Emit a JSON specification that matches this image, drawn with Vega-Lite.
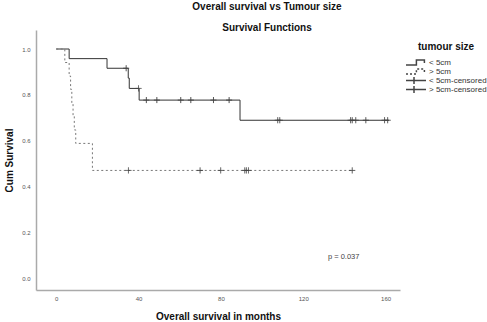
{
  "$schema": "https://vega.github.io/schema/vega-lite/v6.json",
  "autosize": "none",
  "width": 364,
  "height": 260,
  "padding": {"left": 36, "top": 30, "right": 87, "bottom": 32},
  "background": "white",
  "title": {
    "text": "Overall survival vs Tumour size",
    "subtitle": "Survival Functions",
    "font": "Liberation Sans",
    "fontSize": 10,
    "fontWeight": "bold",
    "subtitleFont": "Liberation Sans",
    "subtitleFontSize": 10,
    "subtitleFontWeight": "bold",
    "subtitleColor": "#111",
    "color": "#111",
    "anchor": "middle",
    "dx": 49,
    "offset": -3,
    "subtitlePadding": 11
  },
  "config": {
    "view": {"stroke": null},
    "font": "Liberation Sans",
    "axis": {
      "grid": false,
      "ticks": false,
      "domainColor": "#aaaaaa",
      "domainWidth": 1.5,
      "labelColor": "#555555",
      "labelFontSize": 6,
      "labelFont": "Liberation Sans",
      "titleFont": "Liberation Sans",
      "titleFontSize": 10,
      "titleFontWeight": "bold",
      "titleColor": "#111"
    }
  },
  "data": {
    "values": [
      {"series": "< 5cm", "kind": "line", "legend": "< 5cm", "month": 0, "surv": 1.0},
      {"series": "< 5cm", "kind": "line", "legend": "< 5cm", "month": 6.3, "surv": 0.958},
      {"series": "< 5cm", "kind": "line", "legend": "< 5cm", "month": 24.7, "surv": 0.916},
      {"series": "< 5cm", "kind": "line", "legend": "< 5cm", "month": 35, "surv": 0.873},
      {"series": "< 5cm", "kind": "line", "legend": "< 5cm", "month": 35.5, "surv": 0.828},
      {"series": "< 5cm", "kind": "line", "legend": "< 5cm", "month": 40.3, "surv": 0.777},
      {"series": "< 5cm", "kind": "line", "legend": "< 5cm", "month": 89.3, "surv": 0.689},
      {"series": "< 5cm", "kind": "line", "legend": "< 5cm", "month": 161.7, "surv": 0.689},
      {"series": "> 5cm", "kind": "line", "legend": "> 5cm", "month": 0, "surv": 1.0},
      {"series": "> 5cm", "kind": "line", "legend": "> 5cm", "month": 4.2, "surv": 0.941},
      {"series": "> 5cm", "kind": "line", "legend": "> 5cm", "month": 6.3, "surv": 0.882},
      {"series": "> 5cm", "kind": "line", "legend": "> 5cm", "month": 7.0, "surv": 0.824},
      {"series": "> 5cm", "kind": "line", "legend": "> 5cm", "month": 7.6, "surv": 0.765},
      {"series": "> 5cm", "kind": "line", "legend": "> 5cm", "month": 8.2, "surv": 0.706},
      {"series": "> 5cm", "kind": "line", "legend": "> 5cm", "month": 8.8, "surv": 0.647},
      {"series": "> 5cm", "kind": "line", "legend": "> 5cm", "month": 9.5, "surv": 0.588},
      {"series": "> 5cm", "kind": "line", "legend": "> 5cm", "month": 17.6, "surv": 0.47},
      {"series": "> 5cm", "kind": "line", "legend": "> 5cm", "month": 143.8, "surv": 0.47},
      {"series": "< 5cm", "kind": "censor", "legend": "< 5cm-censored", "month": 34, "surv": 0.916},
      {"series": "< 5cm", "kind": "censor", "legend": "< 5cm-censored", "month": 40, "surv": 0.828},
      {"series": "< 5cm", "kind": "censor", "legend": "< 5cm-censored", "month": 43.8, "surv": 0.777},
      {"series": "< 5cm", "kind": "censor", "legend": "< 5cm-censored", "month": 48.9, "surv": 0.777},
      {"series": "< 5cm", "kind": "censor", "legend": "< 5cm-censored", "month": 60.5, "surv": 0.777},
      {"series": "< 5cm", "kind": "censor", "legend": "< 5cm-censored", "month": 65.4, "surv": 0.777},
      {"series": "< 5cm", "kind": "censor", "legend": "< 5cm-censored", "month": 76.4, "surv": 0.777},
      {"series": "< 5cm", "kind": "censor", "legend": "< 5cm-censored", "month": 84, "surv": 0.777},
      {"series": "< 5cm", "kind": "censor", "legend": "< 5cm-censored", "month": 107.6, "surv": 0.689},
      {"series": "< 5cm", "kind": "censor", "legend": "< 5cm-censored", "month": 108.6, "surv": 0.689},
      {"series": "< 5cm", "kind": "censor", "legend": "< 5cm-censored", "month": 143, "surv": 0.689},
      {"series": "< 5cm", "kind": "censor", "legend": "< 5cm-censored", "month": 143.8, "surv": 0.689},
      {"series": "< 5cm", "kind": "censor", "legend": "< 5cm-censored", "month": 145.5, "surv": 0.689},
      {"series": "< 5cm", "kind": "censor", "legend": "< 5cm-censored", "month": 150.4, "surv": 0.689},
      {"series": "< 5cm", "kind": "censor", "legend": "< 5cm-censored", "month": 159.5, "surv": 0.689},
      {"series": "< 5cm", "kind": "censor", "legend": "< 5cm-censored", "month": 161, "surv": 0.689},
      {"series": "> 5cm", "kind": "censor", "legend": "> 5cm-censored", "month": 35.1, "surv": 0.47},
      {"series": "> 5cm", "kind": "censor", "legend": "> 5cm-censored", "month": 69.9, "surv": 0.47},
      {"series": "> 5cm", "kind": "censor", "legend": "> 5cm-censored", "month": 79.9, "surv": 0.47},
      {"series": "> 5cm", "kind": "censor", "legend": "> 5cm-censored", "month": 91.6, "surv": 0.47},
      {"series": "> 5cm", "kind": "censor", "legend": "> 5cm-censored", "month": 92.4, "surv": 0.47},
      {"series": "> 5cm", "kind": "censor", "legend": "> 5cm-censored", "month": 93.4, "surv": 0.47},
      {"series": "> 5cm", "kind": "censor", "legend": "> 5cm-censored", "month": 143.8, "surv": 0.47},
      {"series": "note", "kind": "note", "legend": "note", "month": 132, "surv": 0.09, "label": "p = 0.037"}
    ]
  },
  "encoding": {
    "x": {
      "field": "month", "type": "quantitative",
      "scale": {"domain": [-9.8, 167], "nice": false, "zero": false},
      "axis": {"values": [0, 40, 80, 120, 160], "title": "Overall survival in months", "labelPadding": 5, "titlePadding": 10}
    },
    "y": {
      "field": "surv", "type": "quantitative",
      "scale": {"domain": [-0.052, 1.083], "nice": false, "zero": false},
      "axis": {"values": [0, 0.2, 0.4, 0.6, 0.8, 1.0], "format": ".1f", "title": "Cum Survival", "labelPadding": 6, "titlePadding": 7}
    }
  },
  "layer": [
    {
      "transform": [{"filter": "datum.kind == 'line' && datum.series == '< 5cm'"}],
      "mark": {"type": "line", "interpolate": "step-after", "color": "#333333", "strokeWidth": 1}
    },
    {
      "transform": [{"filter": "datum.kind == 'line' && datum.series == '> 5cm'"}],
      "mark": {"type": "line", "interpolate": "step-after", "color": "#777777", "strokeWidth": 1, "strokeDash": [2, 2.5]}
    },
    {
      "transform": [{"filter": "datum.kind == 'censor'"}],
      "mark": {"type": "point", "shape": "M-1,0H1M0,-1V1", "filled": false, "size": 36, "strokeWidth": 1, "opacity": 1, "color": "#444444"},
      "encoding": {
        "strokeDash": {
          "field": "legend", "type": "nominal",
          "scale": {"domain": ["< 5cm", "> 5cm", "< 5cm-censored", "> 5cm-censored"], "range": [[1, 0], [2, 2], [1, 0], [1, 0]]},
          "legend": {
            "title": "tumour size",
            "orient": "none",
            "legendX": 369,
            "legendY": 12,
            "titleFont": "Liberation Sans",
            "titleFontSize": 10,
            "titleFontWeight": "bold",
            "titleColor": "#111",
            "titleAnchor": "middle",
            "titlePadding": 6,
            "labelFont": "Liberation Sans",
            "labelFontSize": 8,
            "labelColor": "#333",
            "labelOffset": 14,
            "symbolSize": 64,
            "symbolType": {"expr": "datum.value == '< 5cm' || datum.value == '> 5cm' ? 'M-1,0.6H1.6V-0.6H3.6V0.1' : 'M-1,0H4M1,-0.9V0.9'"},
            "rowPadding": 0,
            "clipHeight": 9,
            "encode": {
              "symbols": {
                "stroke": {"value": {"expr": "datum.value == '> 5cm' ? '#777777' : '#333333'"}},
                "fill": {"value": "transparent"},
                "strokeWidth": {"value": 1},
                "size": {"value": 64}
              }
            }
          }
        }
      }
    },
    {
      "transform": [{"filter": "datum.kind == 'note'"}],
      "mark": {"type": "text", "align": "left", "baseline": "middle", "font": "Liberation Sans", "fontSize": 7.5, "color": "#444444"},
      "encoding": {"text": {"field": "label"}}
    }
  ]
}
